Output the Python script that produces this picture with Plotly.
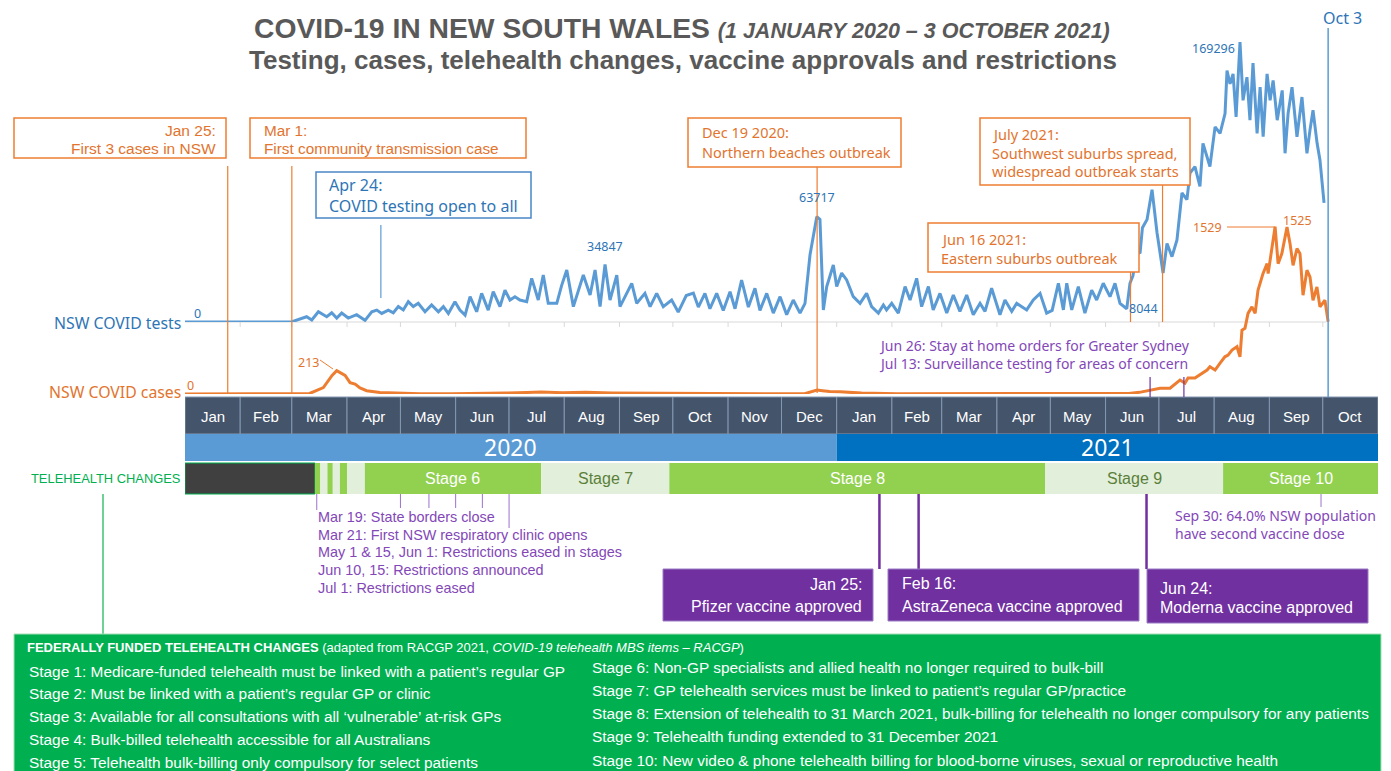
import plotly.graph_objects as go
import pandas as pd

W, H = 1391, 771
def X(px): return px / W
def Y(py): return 1 - py / H

ARIAL = "Liberation Sans, Arial, sans-serif"
SEGOE = "Noto Sans, Open Sans, sans-serif"

ORANGE = "#ED7D31"
ORANGE_T = "#E2742E"
BLUE = "#5B9BD5"
BLUE_T = "#2E75B6"
PURPLE = "#7030A0"
PURPLE_T = "#8347B8"
GREEN = "#00B050"
GRAY_T = "#595959"

BASE = pd.Timestamp("2020-01-01")

# ---------------- data ----------------
# NSW COVID tests: day offset from 1 Jan 2020, value in thousands
tests_day = [0, 60, 61, 68.3, 71.2, 74.9, 79.6, 82.4, 85.2, 88.0, 91.7, 96.4, 101.1, 104.9, 107.7,
             110.5, 114.2, 117.0, 119.8, 122.6, 125.4, 128.2, 131.0, 134.8, 138.5, 142.3, 145.1,
             147.9, 151.6, 154.4, 157.3, 160.1, 163.8, 166.6, 170.3, 173.1, 176.9, 179.7, 182.5,
             185.3, 188.1, 191.9, 194.7, 198.4, 201.2, 204.0, 208.8, 211.5, 214.4, 218.1, 223.7,
             227.5, 230.3, 233.1, 235.9, 238.7, 242.5, 244.3, 250.9, 253.7, 258.3, 261.2, 264.9,
             268.6, 273.3, 277.0, 281.5, 285.5, 288.3, 292.0, 294.8, 298.6, 302.3, 306.1, 308.9,
             312.6, 316.4, 320.1, 322.9, 326.7, 330.4, 334.2, 337.9, 341.6, 345.4, 348.2, 351.0,
             354.8, 356.6, 358.5, 360.4, 364.1, 366.0, 368.8, 371.6, 375.3, 379.1, 382.8, 385.6,
             389.4, 392.2, 394.0, 396.9, 400.6, 404.4, 407.2, 410.9, 413.7, 417.5, 420.2, 424.0,
             427.8, 431.5, 435.2, 439.0, 442.7, 446.5, 449.3, 453.0, 457.7, 460.5, 464.3, 467.1,
             472.7, 476.4, 480.2, 483.9, 487.0, 490.5, 493.3, 495.2, 498.0, 501.7, 505.4, 509.2,
             512.0, 515.7, 519.5, 522.3, 525.1, 528.9, 530.7, 532.4, 534.1, 536.4, 537.7, 540.3,
             543.1, 545.9, 549.3, 551.5, 554.3, 557.1, 559.9, 562.7, 564.4, 567.2, 570.0, 571.7,
             575.6, 578.5, 581.3, 584.1, 585.2, 586.9, 588.6, 590.3, 592.5, 594.2, 596.4, 598.1,
             599.8, 602.1, 603.8, 605.5, 607.7, 609.4, 611.1, 613.4, 616.2, 617.8, 619.5, 621.7,
             624.5, 627.3, 630.1, 631.8, 633.5, 635.8, 637.4, 639.7]
tests_k = [0, 0, 0.5, 3.2, 1.2, 6.2, 3.2, 5.6, 2.4, 5.4, 2.4, 4.4, 1.0, 6.2, 7.2,
           5.2, 7.2, 5.6, 9.3, 7.3, 12.3, 9.3, 11.3, 6.2, 10.3, 6.2, 9.3,
           5.2, 12.3, 7.2, 4.2, 15.3, 6.2, 17.3, 7.2, 18.3, 9.3, 19.3, 13.3,
           15.3, 13.3, 12.3, 26.4, 13.3, 28.4, 11.3, 11.3, 22.0, 31.4, 9.3, 28.4,
           16.3, 31.4, 9.3, 34.8, 13.3, 28.4, 9.3, 23.4, 11.3, 17.3, 9.3, 17.3,
           9.3, 13.3, 6.0, 16.0, 17.5, 9.0, 17.3, 8.0, 17.3, 7.0, 18.3, 8.0,
           25.4, 9.0, 20.4, 7.0, 17.3, 5.4, 15.3, 4.4, 13.3, 5.4, 11.3, 40.5,
           63.7, 62.0, 7.3, 21.4, 34.5, 21.4, 29.6, 25.4, 15.3, 11.3, 17.3, 9.3,
           5.4, 10.3, 7.3, 11.3, 5.4, 21.4, 13.3, 26.4, 9.3, 21.4, 7.3, 17.3,
           5.4, 16.3, 6.4, 16.3, 4.4, 11.3, 6.4, 20.4, 4.4, 13.3, 6.4, 11.3,
           7.3, 13.3, 17.3, 5.4, 7.0, 23.4, 7.3, 23.4, 7.3, 21.4, 5.4, 19.3,
           13.3, 23.4, 15.3, 23.4, 11.3, 8.0, 23.4, 28.0, 41.0, 42.0, 57.0, 62.0,
           80.0, 54.0, 29.6, 47.5, 39.5, 49.6, 78.0, 74.0, 90.0, 94.0, 82.0, 108.0,
           94.0, 118.0, 114.0, 126.0, 152.0, 144.0, 150.0, 124.0, 169.3, 134.0, 148.0, 122.0,
           156.5, 114.0, 142.0, 112.0, 150.0, 134.0, 146.0, 122.0, 140.0, 102.0, 126.0, 142.0,
           112.0, 136.0, 102.0, 116.0, 128.0, 108.0, 98.0, 72.0]

# NSW COVID cases: day offset from 1 Jan 2020, daily cases
cases_day = [0, 60, 70, 77.7, 80.3, 82.6, 85.2, 87.0, 89.9, 92.7, 95.5, 98.3, 102, 109.5, 118,
             132, 150, 166, 180, 192, 200, 212, 225, 240, 255, 270, 290, 310, 330, 348, 352,
             355, 358, 362, 368, 380, 400, 430, 470, 500, 520, 530, 536, 541.9, 547.6, 553.2,
             557.1, 558.8, 561.6, 563.3, 567.2, 570, 574, 575.6, 578.5, 581.3, 584, 585.8, 588,
             590.8, 592.5, 593.6, 595.3, 597, 599.2, 601, 602.6, 605.4, 607.7, 608.3, 610.5,
             612.2, 613.9, 616, 618.9, 620.6, 622.3, 624.5, 626.2, 627.9, 630.1, 631.8, 633.5,
             635.7, 637.4, 640.2, 642]
cases_val = [0, 0, 5, 58, 120, 170, 213, 195, 170, 104, 90, 55, 30, 14, 8,
             3, 2, 3, 8, 14, 18, 12, 15, 10, 8, 5, 6, 3, 2, 3, 20,
             36, 30, 22, 20, 8, 3, 2, 2, 1, 1, 5, 15, 36, 53, 53,
             100, 128, 100, 146, 146, 173, 219, 249, 219, 283, 340, 355, 401,
             432, 340, 584, 600, 737, 796, 737, 948, 1100, 1191, 1100, 1343,
             1529, 1191, 1283, 1525, 1374, 1176, 1330, 1283, 903, 1131, 1070, 857,
             978, 796, 857, 660]

months = ["Jan", "Feb", "Mar", "Apr", "May", "Jun", "Jul", "Aug", "Sep", "Oct", "Nov", "Dec",
          "Jan", "Feb", "Mar", "Apr", "May", "Jun", "Jul", "Aug", "Sep", "Oct"]
month_starts = pd.date_range("2020-01-01", "2021-11-01", freq="MS")
years = ["2020", "2021"]
year_bounds = ["2020-01-01", "2021-01-01", "2021-11-01"]
year_fills = ["#5B9BD5", "#0070C0"]

stage_bounds = ["2020-01-01", "2020-03-14", "2020-03-17", "2020-03-21", "2020-03-24", "2020-03-28",
                "2020-04-01", "2020-04-11", "2020-07-19", "2020-09-29", "2021-04-28", "2021-08-06",
                "2021-11-01"]
stage_fills = ["#404040", "#92D050", "#E2EFDA", "#92D050", "#E2EFDA", "#92D050", "#E2EFDA",
               "#92D050", "#E2EFDA", "#92D050", "#E2EFDA", "#92D050"]
stage_labels = ["", "", "", "", "", "", "", "Stage 6", "Stage 7", "Stage 8", "Stage 9", "Stage 10"]
stage_label_colors = ["white"] * 7 + ["white", "#5B7F3A", "white", "#5B7F3A", "white"]

restriction_ticks = ["2020-03-15", "2020-05-01", "2020-05-17", "2020-06-01", "2020-06-16", "2020-07-01"]
restriction_tick_len = [16, 14, 14, 14, 14, 34]
restriction_notes = ["Mar 19: State borders close",
                     "Mar 21: First NSW respiratory clinic opens",
                     "May 1 & 15, Jun 1: Restrictions eased in stages",
                     "Jun 10, 15: Restrictions announced",
                     "Jul 1: Restrictions eased"]

telehealth_left = ["Stage 1: Medicare-funded telehealth must be linked with a patient\u2019s regular GP",
                   "Stage 2: Must be linked with a patient\u2019s regular GP or clinic",
                   "Stage 3: Available for all consultations with all \u2018vulnerable\u2019 at-risk GPs",
                   "Stage 4: Bulk-billed telehealth accessible for all Australians",
                   "Stage 5: Telehealth bulk-billing only compulsory for select patients"]
telehealth_right = ["Stage 6: Non-GP specialists and allied health no longer required to bulk-bill",
                    "Stage 7: GP telehealth services must be linked to patient\u2019s regular GP/practice",
                    "Stage 8: Extension of telehealth to 31 March 2021, bulk-billing for telehealth no longer compulsory for any patients",
                    "Stage 9: Telehealth funding extended to 31 December 2021",
                    "Stage 10: New video & phone telehealth billing for blood-borne viruses, sexual or reproductive health"]

def d(day):
    return BASE + pd.to_timedelta(day, unit="D")

# ---------------- figure ----------------
fig = go.Figure()
fig.add_trace(go.Scatter(x=[d(v) for v in tests_day], y=[v * 1000 for v in tests_k], mode="lines",
                         line=dict(color=BLUE, width=3), yaxis="y", hoverinfo="skip", showlegend=False))
fig.add_trace(go.Scatter(x=[d(v) for v in cases_day], y=cases_val, mode="lines",
                         line=dict(color=ORANGE, width=3), yaxis="y2", hoverinfo="skip", showlegend=False))

shapes = []
ann = []

def pline(x0, y0, x1, y1, color, width=1):
    shapes.append(dict(type="line", xref="paper", yref="paper", x0=X(x0), x1=X(x1), y0=Y(y0), y1=Y(y1),
                       line=dict(color=color, width=width)))

def dline(date, y0, y1, color, width=1):
    shapes.append(dict(type="line", xref="x", yref="paper", x0=date, x1=date, y0=Y(y0), y1=Y(y1),
                       line=dict(color=color, width=width)))

def prect(x0, y0, x1, y1, line, fill="white", width=1.5):
    shapes.append(dict(type="rect", xref="paper", yref="paper", x0=X(x0), x1=X(x1), y0=Y(y0), y1=Y(y1),
                       line=dict(color=line, width=width), fillcolor=fill))

def drect(x0, x1, y0, y1, fill, line=None, width=1):
    shapes.append(dict(type="rect", xref="x", yref="paper", x0=x0, x1=x1, y0=Y(y0), y1=Y(y1),
                       line=dict(color=line or fill, width=width if line else 0), fillcolor=fill))

def text(px, py, s, size, color, family=ARIAL, xanchor="left", xref="paper"):
    ann.append(dict(xref=xref, yref="paper", x=X(px) if xref == "paper" else px, y=Y(py), text=s,
                    showarrow=False, xanchor=xanchor, yanchor="middle",
                    font=dict(family=family, size=size, color=color)))

# title
text(682, 28, "<b>COVID-19 IN NEW SOUTH WALES</b> <b><i><span style='font-size:21.5px'>(1 JANUARY 2020 \u2013 3 OCTOBER 2021)</span></i></b>",
     28.3, GRAY_T, xanchor="center")
text(683, 60, "<b>Testing, cases, telehealth changes, vaccine approvals and restrictions</b>", 26, GRAY_T, xanchor="center")

# baseline axis of tests chart with month ticks
shapes.append(dict(type="line", xref="x", yref="paper", x0="2020-01-01", x1="2021-10-03", y0=Y(322), y1=Y(322),
                   line=dict(color="#D9D9D9", width=1), layer="below"))
for ms in month_starts[1:22]:
    shapes.append(dict(type="line", xref="x", yref="paper", x0=ms, x1=ms, y0=Y(322), y1=Y(327),
                       line=dict(color="#D9D9D9", width=1), layer="below"))

# month bar
for i, m in enumerate(months):
    drect(month_starts[i], month_starts[i + 1], 397, 434, "#44546A", line="#8497B0", width=1)
    mid = month_starts[i] + (month_starts[i + 1] - month_starts[i]) / 2
    text(mid, 416, m, 15, "white", xanchor="center", xref="x")
# year bar
for i, yv in enumerate(years):
    drect(year_bounds[i], year_bounds[i + 1], 434, 461, year_fills[i])
    mid = pd.Timestamp(year_bounds[i]) + (pd.Timestamp(year_bounds[i + 1]) - pd.Timestamp(year_bounds[i])) / 2
    text(mid, 447, yv, 23, "white", family=SEGOE, xanchor="center", xref="x")
# telehealth bar
for i, f in enumerate(stage_fills):
    drect(stage_bounds[i], stage_bounds[i + 1], 463, 494, f,
          line=GREEN if i == 0 else None, width=1)
    if stage_labels[i]:
        mid = pd.Timestamp(stage_bounds[i]) + (pd.Timestamp(stage_bounds[i + 1]) - pd.Timestamp(stage_bounds[i])) / 2
        text(mid, 478, stage_labels[i], 16, stage_label_colors[i], xanchor="center", xref="x")
text(105, 478, "TELEHEALTH CHANGES", 12.9, GREEN, xanchor="center")
pline(103, 494, 103, 634, "#3CC371", 1.5)

# side labels
text(183, 323, "NSW COVID tests", 15.8, BLUE_T, family=SEGOE, xanchor="right")
text(183, 392, "NSW COVID cases", 15.8, ORANGE_T, family=SEGOE, xanchor="right")

# data labels
LS = 12.5
text(197, 313, "0", LS, BLUE_T, family=SEGOE, xanchor="center")
text(605, 247, "34847", LS, BLUE_T, family=SEGOE, xanchor="center")
text(817, 198, "63717", LS, BLUE_T, family=SEGOE, xanchor="center")
text(1143, 308, "8044", LS, BLUE_T, family=SEGOE, xanchor="center")
text(1213, 48, "169296", LS, BLUE_T, family=SEGOE, xanchor="center")
text(190, 385, "0", LS, ORANGE_T, family=SEGOE, xanchor="center")
text(308, 362, "213", LS, ORANGE_T, family=SEGOE, xanchor="center")
pline(320, 360, 333, 369, ORANGE, 1)
text(1207, 227, "1529", LS, ORANGE_T, family=SEGOE, xanchor="center")
pline(1227, 227, 1275, 227, ORANGE, 1)
text(1297, 220, "1525", LS, ORANGE_T, family=SEGOE, xanchor="center")

# event connectors
dline("2020-01-25", 166, 393, ORANGE, 1.2)
dline("2020-03-01", 166, 393, ORANGE, 1.2)
dline("2020-04-20", 225, 298, BLUE, 1.2)
dline("2020-12-21", 167, 393, ORANGE, 1.2)
dline("2021-07-03", 185, 322, ORANGE, 1.2)
dline("2021-06-15", 272, 322, ORANGE, 1.2)
dline("2021-10-04", 28, 397, BLUE, 1.5)
text(1342, 18, "Oct 3", 16, BLUE_T, family=SEGOE, xanchor="center")

# orange / blue event boxes
prect(14, 118, 226, 158, ORANGE)
text(218, 130, "Jan 25:", 15.5, ORANGE_T, xanchor="right")
text(218, 148, "First 3 cases in NSW", 15.5, ORANGE_T, xanchor="right")
prect(250, 118, 526, 158, ORANGE)
text(262, 130, "Mar 1:", 15.3, ORANGE_T)
text(262, 148, "First community transmission case", 15.3, ORANGE_T)
prect(316, 172, 531, 218, "#4A86C8")
text(327, 185, "Apr 24:", 16, BLUE_T, family=SEGOE)
text(327, 206, "COVID testing open to all", 16, BLUE_T, family=SEGOE)
prect(688, 118, 901, 167, ORANGE)
text(700, 132, "Dec 19 2020:", 14.5, ORANGE_T, family=SEGOE)
text(700, 152, "Northern beaches outbreak", 14.5, ORANGE_T, family=SEGOE)
prect(980, 118, 1190, 185, ORANGE)
text(990, 134, "July 2021:", 14.5, ORANGE_T, family=SEGOE)
text(990, 153, "Southwest suburbs spread,", 14.5, ORANGE_T, family=SEGOE)
text(990, 171, "widespread outbreak starts", 14.5, ORANGE_T, family=SEGOE)
prect(928, 223, 1139, 272, ORANGE)
text(939, 239, "Jun 16 2021:", 14.5, ORANGE_T, family=SEGOE)
text(939, 258, "Eastern suburbs outbreak", 14.5, ORANGE_T, family=SEGOE)

# purple restriction notes
text(877, 345, "Jun 26: Stay at home orders for Greater Sydney", 14, PURPLE_T, family=SEGOE)
text(877, 363, "Jul 13: Surveillance testing for areas of concern", 14, PURPLE_T, family=SEGOE)
dline("2021-06-26", 377, 397, PURPLE, 1.2)
dline("2021-07-15", 377, 397, PURPLE, 1.2)
for t, ln in zip(restriction_ticks, restriction_tick_len):
    dline(t, 494, 494 + ln, "#9B72CC", 1)
for i, s in enumerate(restriction_notes):
    text(316, 517 + i * 17.7, s, 14.4, PURPLE_T)
dline("2021-09-30", 494, 507, "#9B72CC", 1)
text(1173, 515, "Sep 30: 64.0% NSW population", 14, PURPLE_T, family=SEGOE)
text(1173, 533, "have second vaccine dose", 14, PURPLE_T, family=SEGOE)

# vaccine boxes
dline("2021-01-25", 494, 569, PURPLE, 2.5)
dline("2021-02-16", 494, 569, PURPLE, 2.5)
dline("2021-06-24", 494, 569, PURPLE, 2.5)
prect(663, 569, 873, 621, "#9A7BC4", PURPLE, 1)
text(864, 584, "Jan 25:", 16, "white", xanchor="right")
text(864, 606, "Pfizer vaccine approved", 16, "white", xanchor="right")
prect(888, 569, 1139, 621, "#9A7BC4", PURPLE, 1)
text(900, 583, "Feb 16:", 16, "white")
text(900, 606, "AstraZeneca vaccine approved", 16, "white")
prect(1147, 569, 1368, 623, "#9A7BC4", PURPLE, 1)
text(1158, 588, "Jun 24:", 16, "white")
text(1158, 607, "Moderna vaccine approved", 16, "white")

# bottom telehealth box
prect(14, 634, 1381, 775, "#A9DDB9", GREEN, 1)
text(25, 647, "<b>FEDERALLY FUNDED TELEHEALTH CHANGES</b> (adapted from RACGP 2021, <i>COVID-19 telehealth MBS items \u2013 RACGP</i>)",
     13, "white")
for i, s in enumerate(telehealth_left):
    text(27, 671 + i * 22.9, s, 15.4, "white")
for i, s in enumerate(telehealth_right):
    text(590, 667 + i * 23.3, s, 15.4, "white")

fig.update_layout(
    width=W, height=H, margin=dict(l=0, r=0, t=0, b=0),
    paper_bgcolor="white", plot_bgcolor="rgba(0,0,0,0)", showlegend=False,
    xaxis=dict(domain=[X(185), X(1378)], range=["2020-01-01", "2021-11-01"], type="date",
               visible=False, fixedrange=True),
    yaxis=dict(domain=[Y(322), 1], range=[0, 322 * 604.6], visible=False, fixedrange=True),
    yaxis2=dict(domain=[Y(394), Y(200)], range=[0, 194 * 9.139], visible=False, anchor="x",
                fixedrange=True),
    shapes=shapes, annotations=ann,
)

fig.write_html("out.html", config={"displayModeBar": False},
               post_script="document.body.style.margin='0';document.body.style.overflow='hidden';")
